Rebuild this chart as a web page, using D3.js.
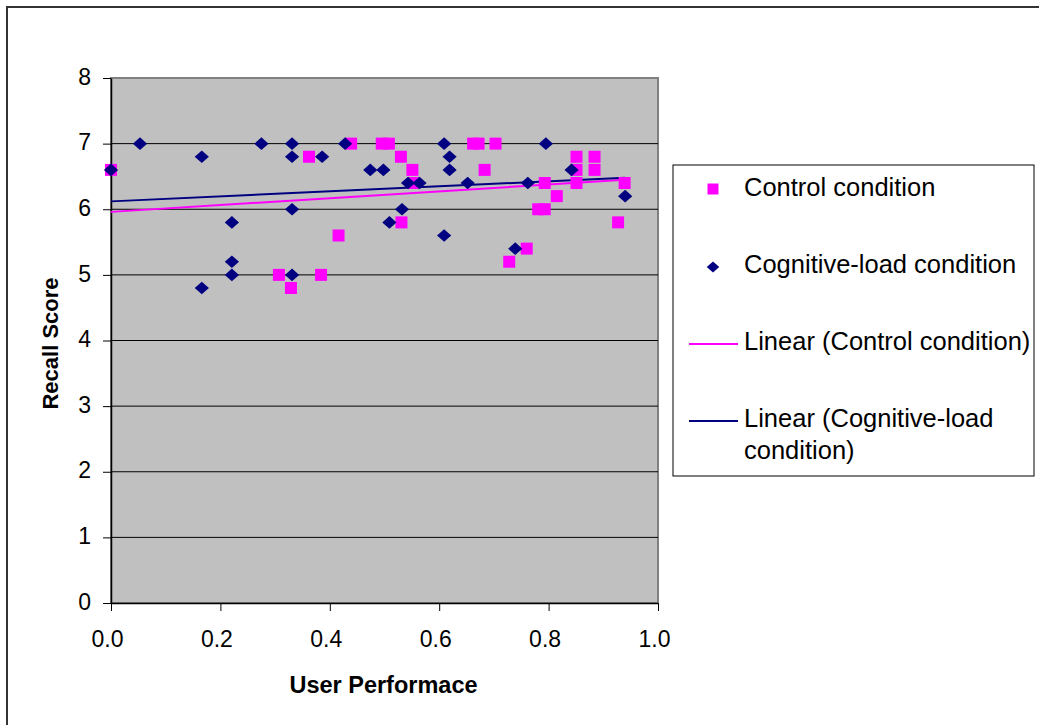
<!DOCTYPE html>
<html>
<head>
<meta charset="utf-8">
<script src="https://cdn.jsdelivr.net/npm/d3@7"></script>
<style>
  html, body { margin: 0; padding: 0; background: #ffffff; }
  svg { display: block; font-family: "Liberation Sans", Arial, sans-serif; }
</style>
</head>
<body>
<svg id="chart" width="1039" height="725"></svg>
<script>
// ---- data ----
const controlX = [0.0, 0.307, 0.329, 0.362, 0.384, 0.416, 0.439, 0.495, 0.508, 0.530, 0.531, 0.551, 0.553, 0.662, 0.672, 0.683, 0.703, 0.728, 0.760, 0.781, 0.793, 0.793, 0.815, 0.851, 0.851, 0.851, 0.884, 0.884, 0.927, 0.939];
const controlY = [6.6, 5.0, 4.8, 6.8, 5.0, 5.6, 7.0, 7.0, 7.0, 6.8, 5.8, 6.6, 6.4, 7.0, 7.0, 6.6, 7.0, 5.2, 5.4, 6.0, 6.0, 6.4, 6.2, 6.8, 6.6, 6.4, 6.8, 6.6, 5.8, 6.4];
const cogX = [0.0, 0.053, 0.166, 0.166, 0.221, 0.221, 0.221, 0.275, 0.331, 0.331, 0.331, 0.331, 0.386, 0.428, 0.474, 0.498, 0.509, 0.532, 0.543, 0.564, 0.609, 0.619, 0.619, 0.609, 0.652, 0.739, 0.762, 0.795, 0.842, 0.940];
const cogY = [6.6, 7.0, 6.8, 4.8, 5.8, 5.2, 5.0, 7.0, 7.0, 6.8, 6.0, 5.0, 6.8, 7.0, 6.6, 6.6, 5.8, 6.0, 6.4, 6.4, 7.0, 6.8, 6.6, 5.6, 6.4, 5.4, 6.4, 7.0, 6.6, 6.2];
// linear trend lines (end points)
const controlTrendX = [0.0, 0.939];
const controlTrendY = [5.96, 6.45];
const cogTrendX = [0.0, 0.940];
const cogTrendY = [6.12, 6.48];
const xTicks = [0, 0.2, 0.4, 0.6, 0.8, 1.0];
const yTicks = [0, 1, 2, 3, 4, 5, 6, 7, 8];
const legendLabels = ["Control condition", "Cognitive-load condition", "Linear (Control condition)", "Linear (Cognitive-load", "condition)"];
const xTitle = "User Performace";
const yTitle = "Recall Score";

const PINK = "#FF00FF", NAVY = "#000080";

const svg = d3.select("#chart");
const pL = 111, pR = 658, pT = 78, pB = 603;

const x = d3.scaleLinear().domain([0, 1]).range([pL, pR]);
const y = d3.scaleLinear().domain([0, 8]).range([pB, pT]);

// custom diamond (slightly wider than tall, like Excel's)
const diamondType = {
  draw(ctx, size) {
    const w = Math.sqrt(size) * 0.53, h = Math.sqrt(size) * 0.47;
    ctx.moveTo(0, -h); ctx.lineTo(w, 0); ctx.lineTo(0, h); ctx.lineTo(-w, 0); ctx.closePath();
  }
};

// outer chart frame
svg.append("rect").attr("x", 7).attr("y", 7).attr("width", 1060).attr("height", 740)
  .attr("fill", "#ffffff").attr("stroke", "#333333").attr("stroke-width", 2);

// plot area
svg.append("rect").attr("x", pL).attr("y", pT).attr("width", pR - pL).attr("height", pB - pT)
  .attr("fill", "#C0C0C0").attr("stroke", "#808080").attr("stroke-width", 2);

// gridlines
svg.append("g").selectAll("line").data(yTicks.filter(d => d > 0 && d < 8)).join("line")
  .attr("x1", pL).attr("x2", pR).attr("y1", d => y(d)).attr("y2", d => y(d))
  .attr("stroke", "#000000").attr("stroke-width", 1);

// axes
const yAxis = d3.axisLeft(y).tickValues(yTicks).tickFormat(d3.format("d")).tickSizeInner(8).tickSizeOuter(0).tickPadding(12);
const gy = svg.append("g").attr("transform", `translate(${pL},0)`).call(yAxis);
const xAxis = d3.axisBottom(x).tickValues(xTicks).tickFormat(d3.format(".1f")).tickSizeInner(8).tickSizeOuter(0).tickPadding(20);
const gx = svg.append("g").attr("transform", `translate(0,${pB})`).call(xAxis);
[gx, gy].forEach(g => {
  g.select(".domain").attr("stroke", "#000000").attr("stroke-width", 1.5);
  g.selectAll(".tick line").attr("stroke", "#000000");
  g.selectAll(".tick text").attr("font-size", 23).attr("fill", "#000000")
    .attr("font-family", "'Liberation Sans', Arial, sans-serif");
});
gx.selectAll(".tick text").attr("dx", -4);
gy.selectAll(".tick text").attr("dy", "0.27em");

// axis titles
svg.append("text").attr("x", (pL + pR) / 2 - 1).attr("y", 693)
  .attr("text-anchor", "middle").attr("font-weight", "bold").attr("font-size", 23.5)
  .text(xTitle);
svg.append("text").attr("transform", `translate(58,${(pT + pB) / 2 + 3}) rotate(-90)`)
  .attr("text-anchor", "middle").attr("font-weight", "bold").attr("font-size", 22)
  .text(yTitle);

// trend lines
const line = d3.line().x(d => x(d[0])).y(d => y(d[1]));
svg.append("path").datum(d3.zip(controlTrendX, controlTrendY)).attr("d", line)
  .attr("fill", "none").attr("stroke", PINK).attr("stroke-width", 2);
svg.append("path").datum(d3.zip(cogTrendX, cogTrendY)).attr("d", line)
  .attr("fill", "none").attr("stroke", NAVY).attr("stroke-width", 2);

// markers
const sq = d3.symbol().type(d3.symbolSquare).size(144);
const dia = d3.symbol().type(diamondType).size(180);
svg.append("g").selectAll("path").data(d3.zip(controlX, controlY)).join("path")
  .attr("d", sq).attr("transform", d => `translate(${x(d[0])},${y(d[1])})`)
  .attr("fill", PINK);
svg.append("g").selectAll("path").data(d3.zip(cogX, cogY)).join("path")
  .attr("d", dia).attr("transform", d => `translate(${x(d[0])},${y(d[1])})`)
  .attr("fill", NAVY);

// legend
const lg = svg.append("g");
lg.append("rect").attr("x", 673).attr("y", 165).attr("width", 361).attr("height", 311)
  .attr("fill", "#ffffff").attr("stroke", "#000000").attr("stroke-width", 1);
const fs = 25.5;
lg.append("path").attr("d", d3.symbol().type(d3.symbolSquare).size(121)())
  .attr("transform", "translate(713,189)").attr("fill", PINK);
lg.append("text").attr("x", 744).attr("y", 196).attr("font-size", fs).text(legendLabels[0]);
lg.append("path").attr("d", d3.symbol().type(diamondType).size(140)())
  .attr("transform", "translate(713,267)").attr("fill", NAVY);
lg.append("text").attr("x", 744).attr("y", 273).attr("font-size", fs).text(legendLabels[1]);
lg.append("line").attr("x1", 689).attr("x2", 738).attr("y1", 344).attr("y2", 344)
  .attr("stroke", PINK).attr("stroke-width", 2);
lg.append("text").attr("x", 744).attr("y", 350).attr("font-size", fs).text(legendLabels[2]);
lg.append("line").attr("x1", 689).attr("x2", 738).attr("y1", 421).attr("y2", 421)
  .attr("stroke", NAVY).attr("stroke-width", 2);
const t4 = lg.append("text").attr("x", 744).attr("y", 427).attr("font-size", fs);
t4.append("tspan").attr("x", 744).text(legendLabels[3]);
t4.append("tspan").attr("x", 744).attr("dy", 32).text(legendLabels[4]);
</script>
</body>
</html>
